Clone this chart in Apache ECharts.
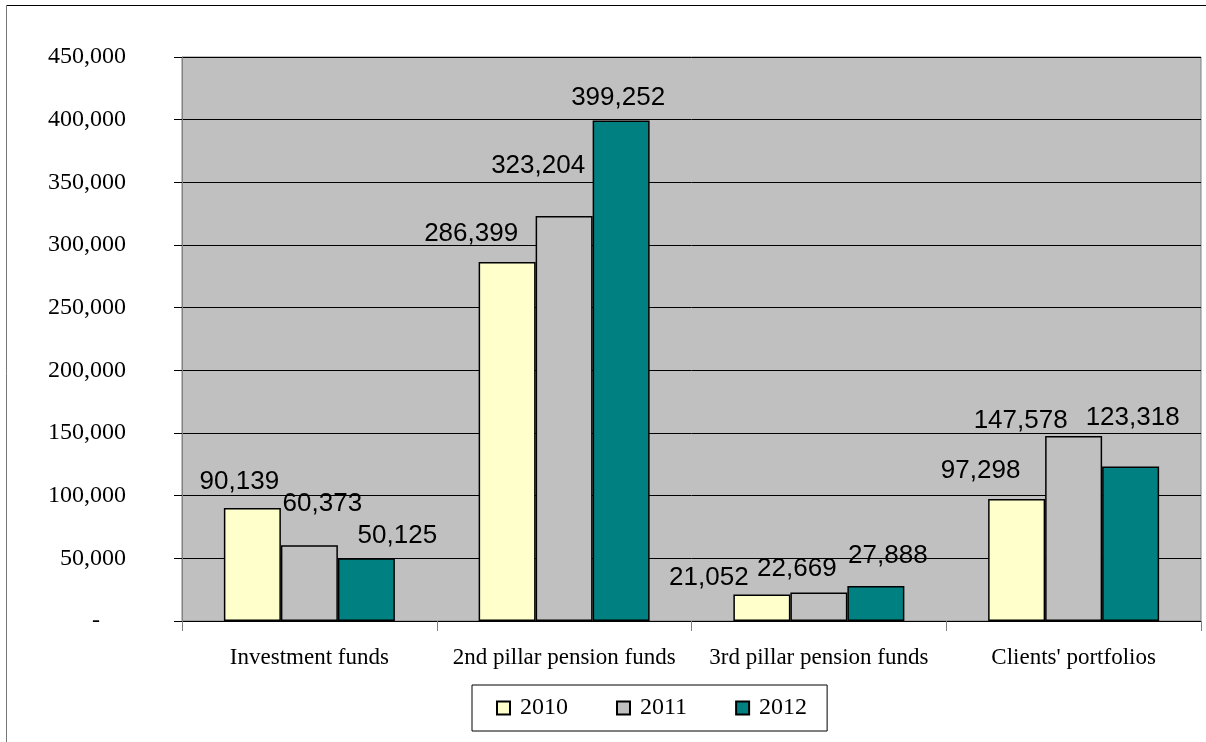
<!DOCTYPE html>
<html>
<head>
<meta charset="utf-8">
<script src="https://cdn.jsdelivr.net/npm/echarts@6/dist/echarts.min.js"></script>
<style>html,body{margin:0;padding:0;background:#fff;}#c{width:1206px;height:742px;}</style>
</head>
<body>
<div id="c"></div>
<script>
const categories = ['Investment funds', '2nd pillar pension funds', '3rd pillar pension funds', "Clients' portfolios"];
const years = ['2010', '2011', '2012'];
const values2010 = [90139, 286399, 21052, 97298];
const values2011 = [60373, 323204, 22669, 147578];
const values2012 = [50125, 399252, 27888, 123318];
const yTicks = { min: 0, max: 450000, interval: 50000 };

// layout-only: label nudges (px) imitating the original label placement
const labelShift = [
  [[-13, -13], [-36, -15], [-53, -4], [-36, -15]],
  [[13, -29], [-26, -37], [-22, -11], [-53, -2]],
  [[31, -9], [-3, -10], [12, -17], [2, -36]]
];
const colors = ['#FFFFCC', '#C0C0C0', '#008080'];
const seriesValues = [values2010, values2011, values2012];

const fmt = v => v.toString().replace(/\B(?=(\d{3})+(?!\d))/g, ',');

const chart = echarts.init(document.getElementById('c'));
chart.setOption({
  animation: false,
  backgroundColor: '#ffffff',
  grid: { left: 182, top: 57, right: 5, bottom: 121, show: true, backgroundColor: '#C0C0C0', borderColor: '#808080', borderWidth: 1 },
  graphic: [
    { type: 'line', shape: { x1: 6, y1: 5.5, x2: 1206, y2: 5.5 }, style: { stroke: '#000', lineWidth: 1 } },
    { type: 'line', shape: { x1: 6.5, y1: 5, x2: 6.5, y2: 742 }, style: { stroke: '#777', lineWidth: 1 } }
  ],
  legend: {
    data: years,
    left: 472, top: 685,
    padding: [11, 20, 11, 24],
    borderColor: '#000', borderWidth: 1,
    itemWidth: 13, itemHeight: 13, itemGap: 48,
    icon: 'rect',
    textStyle: { fontFamily: 'Liberation Serif, Times New Roman, serif', fontSize: 24, color: '#000', padding: [0, 0, 0, 5] }
  },
  xAxis: {
    type: 'category',
    data: categories,
    axisLine: { lineStyle: { color: '#000', width: 1 } },
    axisTick: { show: true, length: 10, lineStyle: { color: '#808080' } },
    axisLabel: { color: '#000', fontFamily: 'Liberation Serif, Times New Roman, serif', fontSize: 23, margin: 25, interval: 0 }
  },
  yAxis: {
    type: 'value',
    min: yTicks.min, max: yTicks.max, interval: yTicks.interval,
    axisLine: { show: true, lineStyle: { color: '#808080' } },
    axisTick: { show: true, length: 8, lineStyle: { color: '#000' } },
    splitLine: { lineStyle: { color: '#000', width: 1 } },
    axisLabel: {
      color: '#000', fontFamily: 'Liberation Serif, Times New Roman, serif', fontSize: 24, margin: 56,
      formatter: v => v === 0 ? '{d|-}' : fmt(v),
      rich: { d: { fontFamily: 'Liberation Serif, Times New Roman, serif', fontSize: 24, color: '#000', padding: [0, 26, 0, 0] } }
    }
  },
  series: years.map((y, si) => ({
    name: y,
    type: 'bar',
    barWidth: 57,
    barGap: '0%',
    itemStyle: { color: colors[si], borderColor: '#000', borderWidth: 1.5 },
    data: seriesValues[si].map((v, ci) => ({
      value: v,
      label: { offset: labelShift[si][ci] }
    })),
    label: {
      show: true, position: 'top', distance: 0,
      fontFamily: 'Liberation Sans, Arial, sans-serif', fontSize: 26, lineHeight: 26, color: '#000',
      formatter: p => fmt(p.value)
    }
  }))
});
</script>
</body>
</html>
